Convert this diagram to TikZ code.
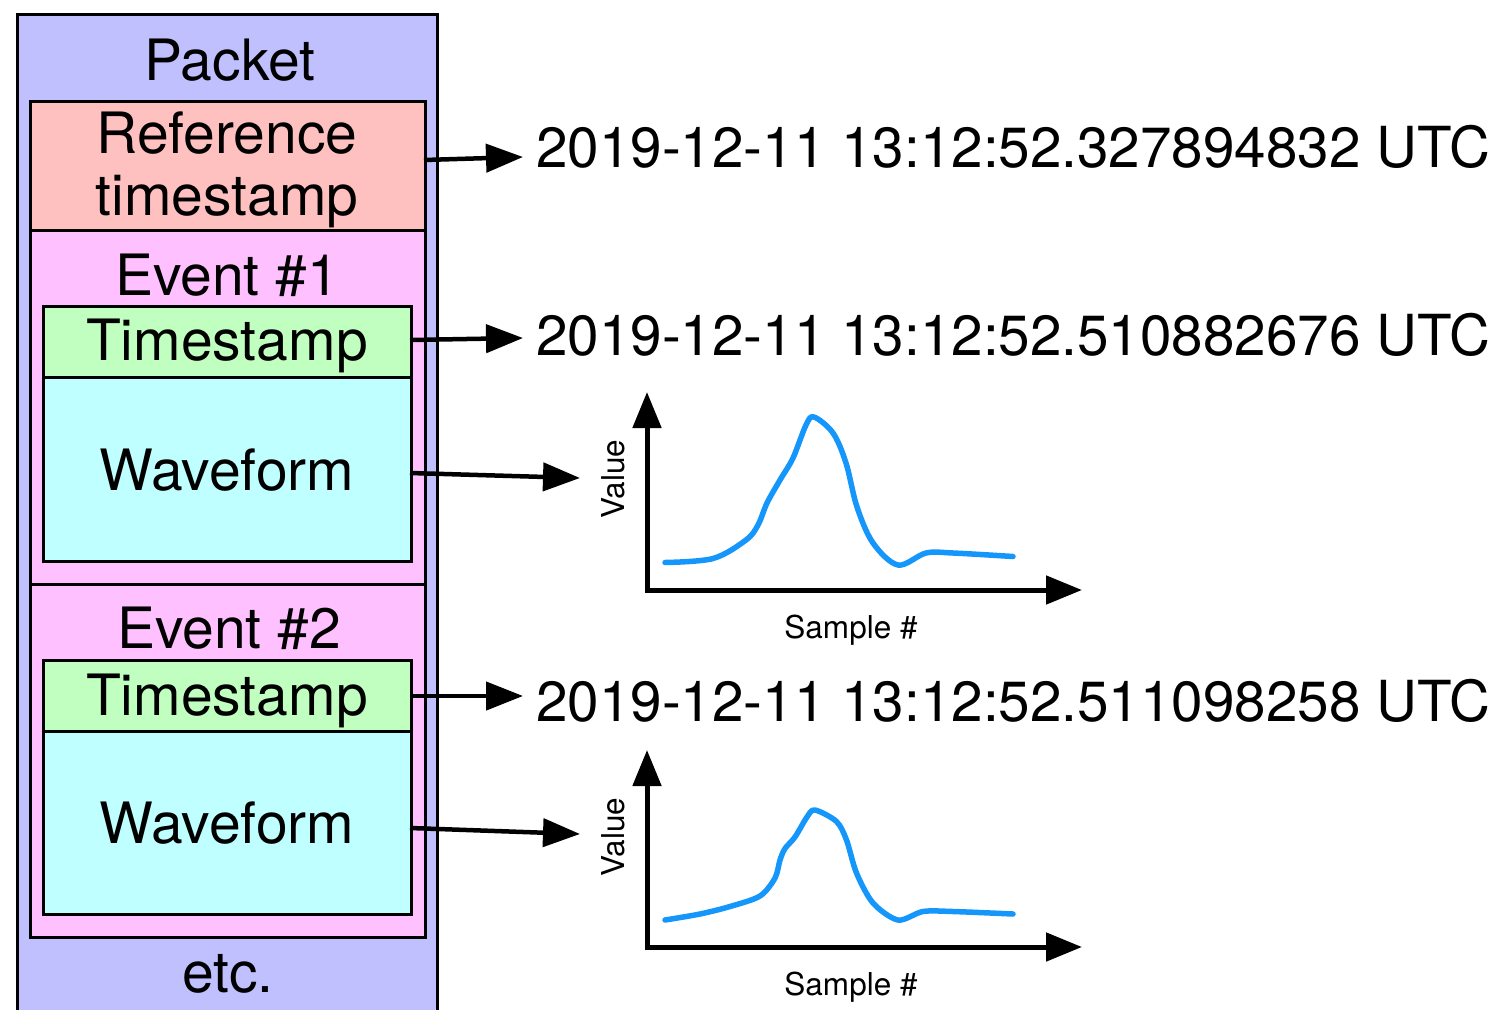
\documentclass[tikz,border=0pt]{standalone}
\usepackage{fontspec}
\setmainfont{TeX Gyre Heros}
\usetikzlibrary{arrows.meta}
\definecolor{pktcol}{HTML}{C0C0FF}
\definecolor{refcol}{HTML}{FFC0C0}
\definecolor{evcol}{HTML}{FFC0FF}
\definecolor{tscol}{HTML}{C0FFC0}
\definecolor{wfcol}{HTML}{C0FFFF}
\definecolor{curvecol}{HTML}{1496FA}
\begin{document}
\begin{tikzpicture}[x=1pt,y=-1pt,
  box/.style={draw=black, line width=2.5pt, rectangle, inner sep=0pt, anchor=north west},
  big/.style={inner sep=0pt, font=\fontsize{57pt}{62pt}\selectfont},
  stamp/.style={inner sep=0pt, font=\fontsize{56.6pt}{62pt}\selectfont},
  small/.style={inner sep=0pt, font=\fontsize{31.5pt}{36pt}\selectfont},
  arr/.style={line width=4.5pt, -{Triangle[length=37pt,width=28pt]}},
  axis/.style={line width=5pt, line join=miter, {Triangle[length=36pt,width=28pt]}-{Triangle[length=36pt,width=28pt]}},
  wave/.style={draw=curvecol, line width=5.5pt, line cap=round, line join=round}]
\useasboundingbox (0,0) rectangle (1498,1009);
\clip (0,0) rectangle (1498,1009);
% boxes
\node[box, fill=pktcol, minimum width=420pt, minimum height=1017pt] (packet) at (16,13) {};
\node[box, fill=refcol, minimum width=395pt, minimum height=129pt] (ref) at (29,100) {};
\node[box, fill=evcol, minimum width=395pt, minimum height=354pt] (ev1) at (29,229) {};
\node[box, fill=tscol, minimum width=368pt, minimum height=71pt] (ts1) at (42,305) {};
\node[box, fill=wfcol, minimum width=368pt, minimum height=184pt] (wf1) at (42,376) {};
\node[box, fill=evcol, minimum width=395pt, minimum height=353pt] (ev2) at (29,583) {};
\node[box, fill=tscol, minimum width=368pt, minimum height=71pt] (ts2) at (42,659) {};
\node[box, fill=wfcol, minimum width=368pt, minimum height=183pt] (wf2) at (42,730) {};
% box labels
\node[big, anchor=base] (lpacket) at (230,80) {Packet};
\node[big, anchor=base] (lref1) at (227,153) {Reference};
\node[big, anchor=base] (lref2) at (227,215) {timestamp};
\node[big, anchor=base] (lev1) at (227,295) {Event \#1};
\node[big, anchor=base] (lts1) at (227,360) {Timestamp};
\node[big, anchor=base] (lwf1) at (227,490) {Waveform};
\node[big, anchor=base] (lev2) at (229,648) {Event \#2};
\node[big, anchor=base] (lts2) at (227,715) {Timestamp};
\node[big, anchor=base] (lwf2) at (227,843) {Waveform};
\node[big, anchor=base] (letc) at (228,992) {etc.};
% timestamp texts
\node[stamp, anchor=base west] (t0) at (536,167) {2019-12-11 13:12:52.327894832 UTC};
\node[stamp, anchor=base west] (t1) at (536,355) {2019-12-11 13:12:52.510882676 UTC};
\node[stamp, anchor=base west] (t2) at (536,721) {2019-12-11 13:12:52.511098258 UTC};
% arrow end points
\coordinate (a0s) at (424,160);
\coordinate (a0e) at (523,157);
\coordinate (a1s) at (410,340);
\coordinate (a1e) at (523,338);
\coordinate (a2s) at (410,473);
\coordinate (a2e) at (580,478);
\coordinate (a3s) at (410,696);
\coordinate (a3e) at (523,696);
\coordinate (a4s) at (410,828);
\coordinate (a4e) at (580,834);
\draw[arr] (a0s) -- (a0e);
\draw[arr] (a1s) -- (a1e);
\draw[arr] (a2s) -- (a2e);
\draw[arr] (a3s) -- (a3e);
\draw[arr] (a4s) -- (a4e);
% plot 1
\coordinate (p1y) at (647,392);
\coordinate (p1o) at (647,590);
\coordinate (p1x) at (1082,590);
\draw[axis] (p1y) -- (p1o) -- (p1x);
\node[small, anchor=base] (s1) at (851,638) {Sample \#};
\node[small, rotate=90] (v1) at (613,479) {Value};
\draw[wave] plot[smooth, tension=0.55] coordinates {
 (665,562.5) (713,558.5) (746,540) (758,525) (767,503) (780,480) (793,458) (806,425) (814,417) (833,433) (846,463) (857,507) (873,543) (898,565) (926,553) (953,553) (1013,556.5)};
% plot 2
\coordinate (p2y) at (647,750);
\coordinate (p2o) at (647,947);
\coordinate (p2x) at (1082,947);
\draw[axis] (p2y) -- (p2o) -- (p2x);
\node[small, anchor=base] (s2) at (851,995) {Sample \#};
\node[small, rotate=90] (v2) at (613,837) {Value};
\draw[wave] plot[smooth, tension=0.5] coordinates {
 (665,920) (700,914) (730,906.5) (760,896) (775,878) (780,860) (785,848.5) (795,837) (807,817) (815,810) (836.5,821.5) (846.5,840) (856.5,873) (873,903) (898,920) (923,911.5) (953,911.5) (1013,914)};
\end{tikzpicture}
\end{document}
